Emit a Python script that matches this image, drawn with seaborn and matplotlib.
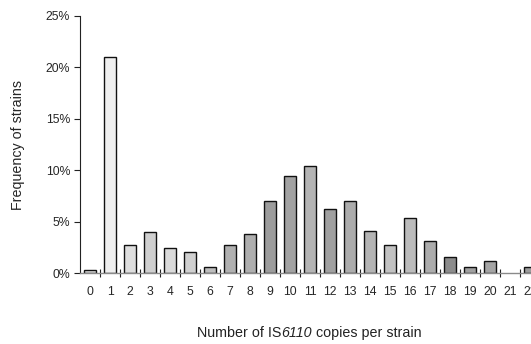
import matplotlib
matplotlib.use("Agg")
import matplotlib.pyplot as plt
from matplotlib.ticker import FixedLocator, FuncFormatter
from matplotlib.offsetbox import TextArea, HPacker, AnchoredOffsetbox
import seaborn as sns
import pandas as pd

copies = list(range(23))
frequency = [0.3, 21.0, 2.8, 4.0, 2.5, 2.1, 0.65, 2.8, 3.8, 7.0, 9.5, 10.4,
             6.3, 7.0, 4.1, 2.8, 5.4, 3.2, 1.6, 0.65, 1.2, 0.0, 0.65]
y_ticks = [0, 5, 10, 15, 20, 25]
bar_greys = ["#dcdcdc", "#efefef", "#dedede", "#cfcfcf", "#dadada", "#d0d0d0",
             "#bdbdbd", "#b0b0b0", "#aeaeae", "#9c9c9c", "#a2a2a2", "#b4b4b4",
             "#a0a0a0", "#acacac", "#b4b4b4", "#c2c2c2", "#bcbcbc", "#acacac",
             "#8c8c8c", "#a0a0a0", "#a4a4a4", "#ffffff", "#9c9c9c"]
xlabel_parts = ["Number of IS", "6110", " copies per strain"]

sns.set_theme(style="white")
plt.rcParams["font.family"] = ["Liberation Sans", "DejaVu Sans"]

df = pd.DataFrame({"copies": [str(c) for c in copies], "freq": frequency})

fig = plt.figure(figsize=(5.31, 3.44), dpi=100)
ax = fig.add_axes([0.1507, 0.205, 0.8493, 0.749])

sns.barplot(data=df, x="copies", y="freq", hue="copies",
            palette=bar_greys, legend=False, width=0.6,
            edgecolor="#111111", linewidth=1.0, ax=ax)
for p, v in zip(ax.patches, frequency):
    if v == 0:
        p.set_linewidth(0)

ax.set_xlim(-0.5, 22.05)
ax.set_ylim(0, 25)
ax.set_yticks(y_ticks)
ax.yaxis.set_major_formatter(FuncFormatter(lambda v, _: f"{int(v)}%"))
ax.tick_params(axis="y", direction="out", length=4, width=0.8, color="#222222",
               labelsize=8.8, pad=3, left=True)
ax.set_xticks(range(len(copies)))
ax.set_xticklabels([str(c) for c in copies])
ax.tick_params(axis="x", which="major", length=0, labelsize=8.8, pad=9)
ax.xaxis.set_minor_locator(FixedLocator([k - 0.5 for k in range(1, 23)]))
ax.tick_params(axis="x", which="minor", direction="inout", length=6, width=0.8,
               color="#222222", bottom=True)

for s in ["top", "right"]:
    ax.spines[s].set_visible(False)
ax.spines["left"].set_color("#222222")
ax.spines["left"].set_linewidth(0.8)
ax.spines["bottom"].set_color("#8a8a8a")
ax.spines["bottom"].set_linewidth(1.0)

ax.set_ylabel("Frequency of strains", fontsize=10.3, labelpad=15)
ax.set_xlabel("")

styles = ["normal", "italic", "normal"]
parts = [TextArea(t, textprops=dict(fontsize=10.3, fontstyle=st, color="#222222"))
         for t, st in zip(xlabel_parts, styles)]
box = HPacker(children=parts, align="baseline", pad=0, sep=0)
anchored = AnchoredOffsetbox(loc="center", child=box, pad=0, frameon=False,
                             bbox_to_anchor=(309 / 531, 11 / 344),
                             bbox_transform=fig.transFigure, borderpad=0)
fig.add_artist(anchored)

fig.savefig("out.png", dpi=100)
